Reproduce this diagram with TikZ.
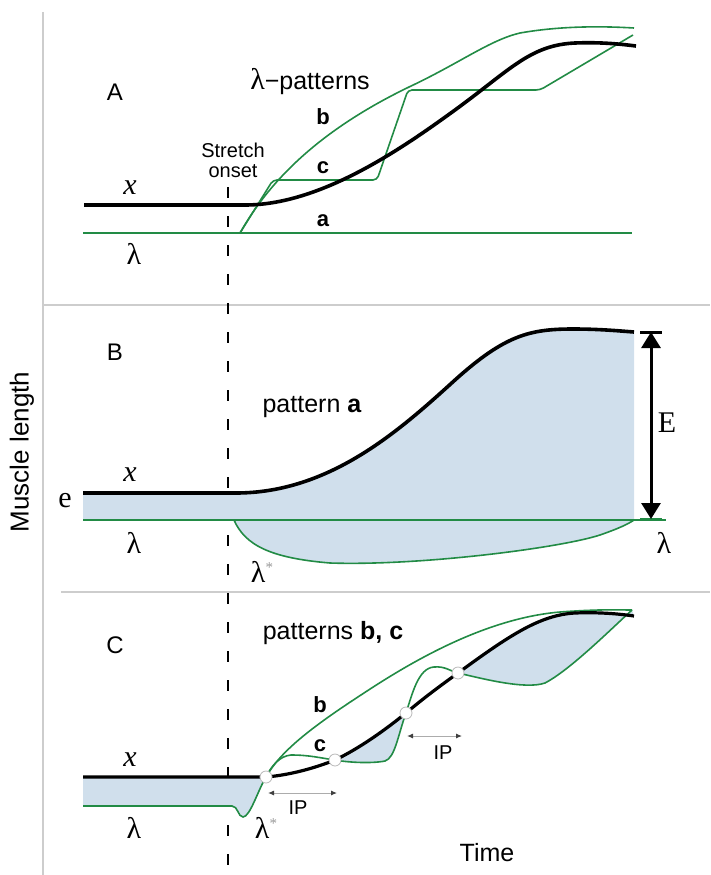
\documentclass[tikz,border=0pt]{standalone}
\usepackage{fontspec}
\setmainfont{Liberation Sans}
\newfontfamily\tms{Liberation Serif}
\usetikzlibrary{arrows.meta}
\definecolor{lgreen}{RGB}{34,139,69}
\definecolor{lblue}{RGB}{208,223,236}
\definecolor{sepgray}{RGB}{205,205,205}
\begin{document}
\begin{tikzpicture}[x=1pt,y=-1pt,
  grn/.style={draw=lgreen, line width=1.6pt},
  xcurve/.style={draw=black, line width=3.6pt},
  fillreg/.style={fill=lblue},
  sep/.style={draw=sepgray, line width=1.2pt},
  panel/.style={font=\fontsize{24}{24}\selectfont, inner sep=0},
  big/.style={font=\fontsize{25}{25}\selectfont, inner sep=0},
  med/.style={font=\fontsize{20}{20}\selectfont, inner sep=0, align=center},
  bl/.style={font=\fontsize{22}{22}\selectfont\bfseries, inner sep=0},
  ser/.style={font=\fontsize{30}{30}\selectfont\tms, inner sep=0},
  dot/.style={circle, draw=gray!55, fill=white, line width=0.8pt, inner sep=0, minimum size=12pt},
  iparrow/.style={draw=gray!65, line width=1pt, {Latex[length=6pt,width=5pt,black!75]}-{Latex[length=6pt,width=5pt,black!75]}}
]
\useasboundingbox (0,0) rectangle (710,875);
% frame lines
\draw[sep] (43,12) -- (43,875);
\draw[sep] (43,305) -- (710,305);
\draw[sep] (61,592) -- (710,592);
% dashed stretch onset line
\draw[black, line width=2pt, dash pattern=on 11pt off 18pt] (228,187) -- (228,868);

% ---------------- Panel A ----------------
\node[panel] (lA) at (115,92) {A};
\node[big] (lpat) at (310,82) {{\tms\fontsize{30}{30}\selectfont λ}−patterns};
\node[bl] (lb1) at (323,117) {b};
\node[med] (lso) at (233,160) {Stretch\\onset};
\node[bl] (lc1) at (323,168) {c};
\node[bl] (la1) at (323,221) {a};
\node[ser] (lx1) at (130,188) {\itshape x};
\node[ser] (ll1) at (134,254) {λ};
\draw[grn] (83,233) -- (632,233);
\draw[grn] (240,233) .. controls (270,180) and (320,130) .. (409,87)
  .. controls (460,63) and (490,40) .. (520,33)
  .. controls (560,26) and (600,26) .. (634,28);
\draw[grn, rounded corners=4pt] (240,233) -- (273,180) -- (377,180) -- (408,90) -- (540,90) -- (633,35);
\draw[xcurve] (84,205) -- (245,205) .. controls (320,205) and (400,150) .. (455,110)
  .. controls (510,70) and (530,45) .. (575,43)
  .. controls (600,42) and (620,44) .. (636,46);

% ---------------- Panel B ----------------
\node[panel] (lB) at (115,352) {B};
\node[big] (lpa) at (312,407) {pattern \textbf{a}};
\fill[fillreg] (83,493) -- (236,493) .. controls (330,493) and (400,430) .. (455,380)
  .. controls (505,335) and (530,329) .. (573,329)
  .. controls (600,329) and (620,331) .. (634,332)
  -- (634,520)
  .. controls (628,524) and (620,528) .. (600,535)
  .. controls (560,548) and (420,566) .. (330,563)
  .. controls (270,558) and (245,545) .. (234,520)
  -- (83,520) -- cycle;
\draw[grn] (83,520) -- (666,520);
\draw[grn] (234,520) .. controls (245,545) and (270,558) .. (330,563)
  .. controls (420,566) and (560,548) .. (600,535)
  .. controls (620,528) and (628,524) .. (634,520);
\draw[xcurve] (83,493) -- (236,493) .. controls (330,493) and (400,430) .. (455,380)
  .. controls (505,335) and (530,329) .. (573,329)
  .. controls (600,329) and (620,331) .. (634,332);
\coordinate (Etop) at (651,332);
\coordinate (Ebot) at (651,519);
\draw[black, line width=3pt] (640,332) -- (662,332);
\draw[lgreen, line width=3pt] (640,519) -- (662,519);
\draw[black, line width=3pt, {Triangle[length=16pt,width=19pt]}-{Triangle[length=16pt,width=19pt]}] (Etop) -- (Ebot);
\node[ser] (lE) at (667,423) {E};
\node[ser] (le) at (65,501) {e};
\node[ser] (lx2) at (130,475) {\itshape x};
\node[ser] (ll2) at (134,543) {λ};
\node[ser] (ll2r) at (664,543) {λ};
\node[ser] (ls2) at (262,572) {λ\raisebox{10pt}{\fontsize{15}{15}\selectfont\color{gray!80}*}};
\node[rotate=90, font=\fontsize{26}{26}\selectfont, inner sep=0] (ylab) at (22,452) {Muscle length};

% ---------------- Panel C ----------------
\node[panel] (lC) at (115,645) {C};
\node[big] (lpbc) at (333,633) {patterns \textbf{b, c}};
\coordinate (P1) at (266,777);
\coordinate (P2) at (335,760);
\coordinate (P3) at (406,713);
\coordinate (P4) at (458,673);
\coordinate (Pe) at (634,616);
\coordinate (Pc) at (632,610);
% fills
\fill[fillreg] (83,777) -- (245,777) -- (P1)
  .. controls (258,790) and (250,817) .. (243,817)
  .. controls (238,817) and (238,806) .. (232,806) -- (83,806) -- cycle;
\fill[fillreg] (P2) .. controls (360,748) and (385,730) .. (P3)
  .. controls (398,735) and (395,758) .. (385,761)
  .. controls (370,764) and (345,762) .. (P2) -- cycle;
\fill[fillreg] (P4) .. controls (510,635) and (540,615) .. (575,613)
  .. controls (600,612) and (620,614) .. (Pe) -- (Pc)
  .. controls (610,630) and (570,670) .. (545,683)
  .. controls (525,690) and (480,678) .. (P4) -- cycle;
% green lambda and patterns
\draw[grn] (83,806) -- (232,806) .. controls (238,806) and (238,817) .. (243,817)
  .. controls (250,817) and (258,790) .. (P1);
\draw[grn] (P1) .. controls (280,752) and (310,728) .. (364,693)
  .. controls (420,656) and (490,618) .. (560,612)
  .. controls (600,609) and (620,610) .. (Pc);
\draw[grn] (P1) .. controls (272,765) and (280,756) .. (291,755)
  .. controls (310,755) and (320,758) .. (P2)
  .. controls (345,762) and (370,764) .. (385,761)
  .. controls (395,758) and (398,735) .. (P3)
  .. controls (412,695) and (418,668) .. (434,667)
  .. controls (445,666) and (450,671) .. (P4)
  .. controls (480,678) and (525,690) .. (545,683)
  .. controls (570,670) and (610,630) .. (Pc);
\draw[xcurve, line width=3.2pt] (83,777) -- (245,777) -- (P1)
  .. controls (290,775) and (315,768) .. (P2)
  .. controls (360,748) and (385,730) .. (P3)
  .. controls (425,697) and (440,686) .. (P4)
  .. controls (510,635) and (540,615) .. (575,613)
  .. controls (600,612) and (620,614) .. (Pe);
\node[dot] (c1) at (P1) {};
\node[dot] (c2) at (P2) {};
\node[dot] (c3) at (P3) {};
\node[dot] (c4) at (P4) {};
\coordinate (ip1a) at (268,793);
\coordinate (ip1b) at (337,793);
\coordinate (ip2a) at (407,736);
\coordinate (ip2b) at (462,736);
\draw[iparrow] (ip1a) -- (ip1b);
\draw[iparrow] (ip2a) -- (ip2b);
\node[med] (ipl1) at (298,808) {IP};
\node[med] (ipl2) at (443,753) {IP};
\node[bl] (lb3) at (320,705) {b};
\node[bl] (lc3) at (320,746) {c};
\node[ser] (lx3) at (130,760) {\itshape x};
\node[ser] (ll3) at (134,828) {λ};
\node[ser] (ls3) at (266,828) {λ\raisebox{10pt}{\fontsize{15}{15}\selectfont\color{gray!80}*}};
\node[big] (ltime) at (487,853) {Time};
\end{tikzpicture}
\end{document}
